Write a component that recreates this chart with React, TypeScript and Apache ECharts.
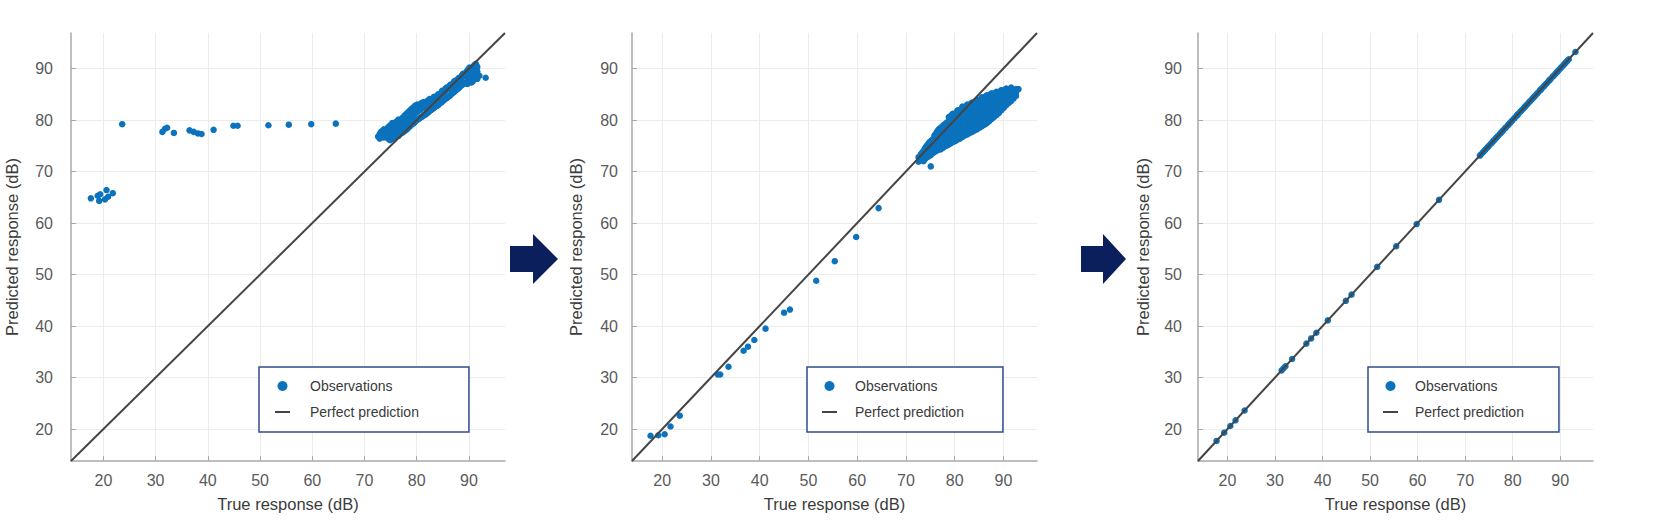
import React, { useEffect, useRef } from "react";
import * as echarts from "echarts";

const AXIS_MIN = 13.8;
const AXIS_MAX = 96.9;
const tickValues = [20, 30, 40, 50, 60, 70, 80, 90];
const xAxisName = "True response (dB)";
const yAxisName = "Predicted response (dB)";
const obsName = "Observations";
const lineName = "Perfect prediction";

// Panel 1: initial model (true, predicted)
const panel1Obs: number[][] = [
  [17.6, 64.8], [18.9, 65.3], [19.2, 64.3], [19.4, 65.6], [20.3, 64.6], [20.6, 66.4], [20.9, 65.1], [21.8, 65.8],
  [23.6, 79.2], [31.3, 77.7], [31.8, 78.3], [32.2, 78.5], [33.5, 77.5], [36.5, 78.0], [37.3, 77.7], [38.1, 77.4],
  [38.8, 77.3], [41.1, 78.1], [44.9, 78.9], [45.7, 78.9], [51.6, 79.0], [55.5, 79.1], [59.8, 79.2], [64.5, 79.3],
  [72.6, 76.8], [72.9, 76.4], [72.9, 77.3], [73.3, 77.0], [73.3, 77.8], [73.7, 76.6], [73.7, 77.5], [73.7, 78.2],
  [74.1, 77.1], [74.1, 78.0], [74.5, 76.4], [74.5, 77.6], [74.5, 78.6], [74.9, 76.1], [74.9, 77.2], [74.9, 78.3],
  [74.9, 79.0], [75.3, 76.8], [75.3, 77.9], [75.3, 79.4], [75.7, 76.3], [75.7, 77.5], [75.7, 78.6], [76.1, 77.0],
  [76.1, 78.2], [76.1, 79.7], [76.5, 76.9], [76.5, 77.8], [76.5, 79.0], [76.5, 80.1], [76.9, 77.4], [76.9, 78.5],
  [76.9, 79.6], [77.3, 77.6], [77.3, 78.9], [77.3, 80.5], [77.7, 77.9], [77.7, 79.3], [77.7, 80.9], [78.1, 78.2],
  [78.1, 79.8], [78.1, 81.3], [78.5, 78.6], [78.5, 80.2], [78.5, 81.7], [78.9, 79.0], [78.9, 80.5], [78.9, 82.1],
  [79.3, 79.3], [79.3, 81.0], [79.3, 82.4], [79.7, 79.7], [79.7, 81.3], [79.7, 82.8], [80.1, 80.0], [80.1, 81.6],
  [80.1, 83.0], [80.5, 80.3], [80.5, 81.9], [80.5, 82.6], [80.9, 80.6], [80.9, 82.2], [80.9, 83.3], [81.3, 80.9],
  [81.3, 82.5], [81.3, 83.5], [81.7, 81.1], [81.7, 82.6], [81.7, 83.2], [82.1, 81.4], [82.1, 82.9], [82.1, 83.8],
  [82.5, 81.8], [82.5, 83.2], [82.5, 84.1], [82.9, 82.1], [82.9, 83.4], [83.3, 82.4], [83.3, 83.9], [83.3, 84.5],
  [83.7, 82.7], [83.7, 84.1], [84.1, 82.9], [84.1, 84.4], [84.1, 85.0], [84.5, 83.3], [84.5, 84.8], [84.9, 83.6],
  [84.9, 85.2], [84.9, 85.7], [85.3, 84.0], [85.3, 85.5], [85.7, 84.3], [85.7, 85.9], [85.7, 86.3], [86.1, 84.6],
  [86.1, 86.1], [86.5, 84.9], [86.5, 86.5], [86.5, 86.9], [86.9, 85.3], [86.9, 86.8], [87.3, 85.6], [87.3, 87.2],
  [87.3, 87.6], [87.7, 86.0], [87.7, 87.5], [88.1, 86.3], [88.1, 87.8], [88.1, 88.2], [88.5, 86.7], [88.5, 88.1],
  [88.9, 87.0], [88.9, 88.5], [88.9, 89.0], [89.3, 87.3], [89.3, 88.9], [89.7, 87.0], [89.7, 88.3], [89.7, 89.6],
  [90.1, 87.5], [90.1, 89.0], [90.1, 90.2], [90.5, 87.3], [90.5, 88.6], [90.5, 89.8], [90.9, 87.8], [90.9, 89.2],
  [90.9, 90.5], [91.3, 88.3], [91.3, 89.7], [91.3, 90.9], [91.6, 88.0], [91.6, 89.4], [91.6, 90.3], [92.0, 88.6],
  [93.2, 88.2],
  [73.1, 76.9], [73.1, 77.6], [73.5, 76.7], [73.5, 77.4], [73.9, 76.8], [73.9, 77.8], [74.3, 76.9], [74.3, 77.8],
  [74.7, 76.8], [74.7, 77.9], [74.7, 78.7], [75.1, 76.5], [75.1, 77.5], [75.1, 78.7], [75.5, 77.2], [75.5, 78.3],
  [75.5, 79.1], [75.9, 76.7], [75.9, 77.8], [75.9, 78.9], [76.3, 77.5], [76.3, 78.6], [76.3, 79.5], [76.7, 77.2],
  [76.7, 78.2], [76.7, 79.3], [77.1, 77.5], [77.1, 78.7], [77.1, 80.0], [77.5, 77.8], [77.5, 79.1], [77.5, 80.3],
  [77.9, 78.1], [77.9, 79.5], [77.9, 80.8], [78.3, 78.4], [78.3, 80.0], [78.3, 81.1], [78.7, 78.8], [78.7, 80.3],
  [78.7, 81.5], [79.1, 79.2], [79.1, 80.8], [79.1, 81.9], [79.5, 79.5], [79.5, 81.1], [79.5, 82.2], [79.9, 79.9],
  [79.9, 81.5], [79.9, 82.5], [80.3, 80.2], [80.3, 81.8], [80.3, 82.9], [80.7, 80.5], [80.7, 82.0], [80.7, 82.9],
  [81.1, 80.7], [81.1, 82.3], [81.1, 83.0], [81.5, 81.0], [81.5, 82.4], [81.5, 83.4], [81.9, 81.3], [81.9, 82.8],
  [81.9, 83.5], [82.3, 81.6], [82.3, 83.0], [82.3, 83.6], [82.7, 81.9], [82.7, 83.3], [82.7, 84.0], [83.1, 82.2],
  [83.1, 83.7], [83.1, 84.2], [83.5, 82.6], [83.5, 84.0], [83.9, 82.8], [83.9, 84.2], [83.9, 84.7], [84.3, 83.1],
  [84.3, 84.6], [84.7, 83.4], [84.7, 85.0], [84.7, 85.4], [85.1, 83.8], [85.1, 85.3], [85.5, 84.1], [85.5, 85.7],
  [85.5, 86.1], [85.9, 84.4], [85.9, 86.0], [86.3, 84.7], [86.3, 86.3], [86.3, 86.7], [86.7, 85.1], [86.7, 86.6],
  [87.1, 85.4], [87.1, 87.0], [87.1, 87.4], [87.5, 85.8], [87.5, 87.3], [87.9, 86.1], [87.9, 87.6], [87.9, 88.0],
  [88.3, 86.5], [88.3, 87.9], [88.7, 86.8], [88.7, 88.3], [88.7, 88.8], [89.1, 87.1], [89.1, 88.7], [89.5, 87.2],
  [89.5, 88.6], [89.5, 89.3], [89.9, 87.3], [89.9, 88.7], [89.9, 89.9], [90.3, 87.4], [90.3, 88.8], [90.3, 90.0],
  [90.7, 87.5], [90.7, 88.9], [90.7, 90.2], [91.1, 88.0], [91.1, 89.5], [91.1, 90.7], [91.45, 88.2], [91.45, 89.6],
  [91.45, 90.6],
];

// Panel 2: improved model (true, predicted)
const panel2Obs: number[][] = [
  [17.6, 18.7], [19.2, 18.8], [20.5, 19.0], [21.7, 20.5], [23.6, 22.6], [31.4, 30.6], [31.9, 30.6], [33.6, 32.1],
  [36.7, 35.2], [37.6, 36.0], [38.9, 37.3], [41.2, 39.5], [45.0, 42.6], [46.2, 43.2], [51.6, 48.8], [55.4, 52.6],
  [59.8, 57.3], [64.4, 62.9],
  [72.6, 71.9], [72.6, 72.8], [73.1, 72.3], [73.1, 73.4], [73.6, 72.0], [73.6, 73.1], [73.6, 74.0], [74.1, 72.6],
  [74.1, 73.7], [74.1, 74.8], [74.6, 72.9], [74.6, 74.1], [74.6, 75.4], [75.1, 71.0], [75.1, 73.2], [75.1, 74.5],
  [75.1, 75.9], [75.6, 73.6], [75.6, 74.9], [75.6, 76.3], [76.1, 73.9], [76.1, 75.2], [76.1, 76.6], [76.1, 77.3],
  [76.6, 74.2], [76.6, 75.5], [76.6, 76.9], [76.6, 78.0], [77.1, 74.3], [77.1, 75.8], [77.1, 77.2], [77.1, 78.4],
  [77.6, 74.6], [77.6, 76.1], [77.6, 77.5], [77.6, 78.9], [78.1, 74.9], [78.1, 76.4], [78.1, 77.8], [78.1, 79.2],
  [78.6, 75.1], [78.6, 76.6], [78.6, 78.1], [78.6, 79.5], [78.8, 80.6], [79.1, 75.4], [79.1, 76.9], [79.1, 78.4],
  [79.1, 79.8], [79.6, 75.7], [79.6, 77.2], [79.6, 78.7], [79.6, 80.1], [79.6, 81.2], [80.1, 75.9], [80.1, 77.5],
  [80.1, 79.0], [80.1, 80.5], [80.6, 76.2], [80.6, 77.7], [80.6, 79.3], [80.6, 80.8], [80.6, 81.9], [81.1, 76.4],
  [81.1, 78.0], [81.1, 79.6], [81.1, 81.1], [81.6, 76.7], [81.6, 78.3], [81.6, 79.9], [81.6, 81.4], [81.6, 82.6],
  [82.1, 77.0], [82.1, 78.5], [82.1, 80.1], [82.1, 81.7], [82.6, 77.2], [82.6, 78.8], [82.6, 80.4], [82.6, 82.0],
  [82.6, 83.0], [83.1, 77.5], [83.1, 79.0], [83.1, 80.6], [83.1, 82.2], [83.6, 77.7], [83.6, 79.3], [83.6, 80.9],
  [83.6, 82.5], [83.6, 83.4], [84.1, 78.0], [84.1, 79.6], [84.1, 81.1], [84.1, 82.7], [84.6, 78.2], [84.6, 79.8],
  [84.6, 81.4], [84.6, 82.9], [84.6, 83.9], [85.1, 78.5], [85.1, 80.1], [85.1, 81.6], [85.1, 83.1], [85.6, 78.8],
  [85.6, 80.3], [85.6, 81.9], [85.6, 83.3], [85.6, 84.4], [86.1, 79.1], [86.1, 80.6], [86.1, 82.1], [86.1, 83.6],
  [86.6, 79.4], [86.6, 80.9], [86.6, 82.4], [86.6, 83.8], [86.6, 84.8], [87.1, 79.8], [87.1, 81.2], [87.1, 82.6],
  [87.1, 84.0], [87.6, 80.2], [87.6, 81.5], [87.6, 82.9], [87.6, 84.2], [87.6, 85.2], [88.1, 80.6], [88.1, 81.8],
  [88.1, 83.1], [88.1, 84.4], [88.6, 81.0], [88.6, 82.2], [88.6, 83.4], [88.6, 84.6], [88.6, 85.5], [89.1, 81.4],
  [89.1, 82.5], [89.1, 83.6], [89.1, 84.8], [89.6, 81.9], [89.6, 82.9], [89.6, 83.9], [89.6, 85.0], [89.6, 85.8],
  [90.1, 82.4], [90.1, 83.3], [90.1, 84.2], [90.1, 85.2], [90.6, 82.9], [90.6, 83.7], [90.6, 84.5], [90.6, 85.4],
  [90.6, 86.1], [91.1, 83.3], [91.1, 84.1], [91.1, 84.8], [91.1, 85.6], [91.6, 83.7], [91.6, 84.5], [91.6, 85.1],
  [91.6, 85.8], [91.6, 86.3], [92.1, 84.2], [92.1, 84.9], [92.1, 85.5], [92.6, 84.7], [92.6, 85.4], [92.6, 86.0],
  [93.1, 86.0],
  [72.85, 72.4], [73.35, 72.7], [73.35, 73.7], [73.85, 72.4], [73.85, 73.4], [73.85, 74.4], [74.35, 73.1], [74.35, 74.2],
  [74.35, 75.1], [74.85, 73.5], [74.85, 74.6], [74.85, 75.7], [75.35, 73.8], [75.35, 75.0], [75.35, 76.1], [75.85, 74.1],
  [75.85, 75.3], [75.85, 76.5], [75.85, 77.0], [76.35, 74.4], [76.35, 75.6], [76.35, 76.8], [76.35, 77.7], [76.85, 74.6],
  [76.85, 75.9], [76.85, 77.2], [76.85, 78.3], [77.35, 74.8], [77.35, 76.2], [77.35, 77.6], [77.35, 78.7], [77.85, 75.1],
  [77.85, 76.5], [77.85, 77.9], [77.85, 79.1], [78.35, 75.4], [78.35, 76.8], [78.35, 78.2], [78.35, 79.5], [78.85, 75.6],
  [78.85, 77.1], [78.85, 78.5], [78.85, 79.8], [79.35, 75.9], [79.35, 77.4], [79.35, 78.8], [79.35, 80.2], [79.35, 80.9],
  [79.85, 76.2], [79.85, 77.7], [79.85, 79.2], [79.85, 80.5], [80.35, 76.4], [80.35, 77.9], [80.35, 79.5], [80.35, 80.9],
  [80.35, 81.5], [80.85, 76.7], [80.85, 78.2], [80.85, 79.8], [80.85, 81.3], [81.35, 77.0], [81.35, 78.5], [81.35, 80.1],
  [81.35, 81.6], [81.35, 82.2], [81.85, 77.2], [81.85, 78.8], [81.85, 80.4], [81.85, 81.9], [82.35, 77.5], [82.35, 79.0],
  [82.35, 80.6], [82.35, 82.2], [82.35, 82.7], [82.85, 77.7], [82.85, 79.3], [82.85, 80.9], [82.85, 82.4], [83.35, 78.0],
  [83.35, 79.6], [83.35, 81.1], [83.35, 82.7], [83.35, 83.2], [83.85, 78.2], [83.85, 79.8], [83.85, 81.4], [83.85, 82.9],
  [84.35, 78.5], [84.35, 80.1], [84.35, 81.6], [84.35, 83.1], [84.35, 83.7], [84.85, 78.7], [84.85, 80.3], [84.85, 81.9],
  [84.85, 83.4], [85.35, 79.0], [85.35, 80.6], [85.35, 82.1], [85.35, 83.6], [85.35, 84.1], [85.85, 79.3], [85.85, 80.8],
  [85.85, 82.4], [85.85, 83.8], [86.35, 79.6], [86.35, 81.1], [86.35, 82.6], [86.35, 84.0], [86.35, 84.6], [86.85, 80.0],
  [86.85, 81.4], [86.85, 82.9], [86.85, 84.3], [87.35, 80.4], [87.35, 81.7], [87.35, 83.1], [87.35, 84.5], [87.35, 85.0],
  [87.85, 80.8], [87.85, 82.0], [87.85, 83.4], [87.85, 84.7], [88.35, 81.2], [88.35, 82.4], [88.35, 83.6], [88.35, 84.9],
  [88.35, 85.3], [88.85, 81.6], [88.85, 82.7], [88.85, 83.9], [88.85, 85.1], [89.35, 82.1], [89.35, 83.1], [89.35, 84.2],
  [89.35, 85.3], [89.35, 85.6], [89.85, 82.6], [89.85, 83.5], [89.85, 84.5], [89.85, 85.5], [90.35, 83.0], [90.35, 83.9],
  [90.35, 84.8], [90.35, 85.6], [90.35, 85.9], [90.85, 83.5], [90.85, 84.3], [90.85, 85.1], [90.85, 85.8], [91.35, 83.9],
  [91.35, 84.7], [91.35, 85.4], [91.35, 86.0], [91.85, 84.4], [91.85, 85.1], [91.85, 85.7], [92.35, 84.9], [92.35, 85.6],
];

// Panel 3: final model (true, predicted)
const panel3Obs: number[][] = [
  [17.7, 17.7], [19.3, 19.3], [20.6, 20.6], [21.7, 21.7], [23.6, 23.6], [31.4, 31.4], [31.8, 31.8], [32.2, 32.2],
  [33.6, 33.6], [36.6, 36.6], [37.6, 37.6], [38.7, 38.7], [41.1, 41.1], [44.9, 44.9], [46.1, 46.1], [51.5, 51.5],
  [55.5, 55.5], [59.8, 59.8], [64.5, 64.5],
  [73.1, 73.1], [73.3, 73.3], [73.7, 73.7], [73.9, 73.9], [74.2, 74.2], [74.6, 74.6], [74.8, 74.8], [75.0, 75.0],
  [75.4, 75.4], [75.6, 75.6], [75.9, 75.9], [76.1, 76.1], [76.5, 76.5], [76.7, 76.7], [76.9, 76.9], [77.3, 77.3],
  [77.5, 77.5], [77.8, 77.8], [78.0, 78.0], [78.4, 78.4], [78.5, 78.5], [78.9, 78.9], [79.1, 79.1], [79.4, 79.4],
  [79.7, 79.7], [79.9, 79.9], [80.3, 80.3], [80.4, 80.4], [80.8, 80.8], [81.0, 81.0], [81.2, 81.2], [81.6, 81.6],
  [81.8, 81.8], [82.1, 82.1], [82.4, 82.4], [82.6, 82.6], [82.9, 82.9], [83.2, 83.2], [83.5, 83.5], [83.7, 83.7],
  [84.0, 84.0], [84.3, 84.3], [84.5, 84.5], [84.8, 84.8], [85.1, 85.1], [85.3, 85.3], [85.7, 85.7], [85.9, 85.9],
  [86.1, 86.1], [86.5, 86.5], [86.7, 86.7], [87.0, 87.0], [87.2, 87.2], [87.6, 87.6], [87.8, 87.8], [88.0, 88.0],
  [88.4, 88.4], [88.6, 88.6], [88.9, 88.9], [89.2, 89.2], [89.4, 89.4], [89.7, 89.7], [90.0, 90.0], [90.2, 90.2],
  [90.5, 90.5], [90.8, 90.8], [91.0, 91.0], [91.3, 91.3], [91.5, 91.5], [91.8, 91.8], [93.2, 93.2],
];

const perfectLine: number[][] = [[AXIS_MIN, AXIS_MIN], [AXIS_MAX, AXIS_MAX]];

const FONT = "'Liberation Sans', Arial, Helvetica, sans-serif";
const BLUE = "#0b72bd";
const NAVY = "#0b1f5c";
const LINE = "#454545";

const layout = [
  { grid: { left: 71, top: 33, width: 434, height: 428 }, yLabelMargin: 18, yNameGap: 51,
    legend: { left: 259, top: 367, padding: [12, 50, 13, 16], textPad: 15 } },
  { grid: { left: 632, top: 33, width: 405, height: 428 }, yLabelMargin: 14, yNameGap: 48,
    legend: { left: 807, top: 367, padding: [12, 39, 13, 15], textPad: 13 } },
  { grid: { left: 1198, top: 33, width: 395, height: 428 }, yLabelMargin: 16, yNameGap: 47,
    legend: { left: 1368, top: 367, padding: [12, 35, 13, 15], textPad: 12 } },
];
const panelData = [panel1Obs, panel2Obs, panel3Obs];

export default function App() {
  const ref = useRef<HTMLDivElement>(null);
  useEffect(() => {
    if (!ref.current) return;
    const chart = echarts.init(ref.current, undefined, { renderer: "svg" });

    const axisCommon = {
      type: "value" as const,
      min: AXIS_MIN,
      max: AXIS_MAX,
      nameLocation: "middle" as const,
      nameTextStyle: { fontFamily: FONT, fontSize: 16.5, color: "#3c3c3c" },
      axisLine: { show: true, lineStyle: { color: "#a8a8a8", width: 1.5 } },
      axisTick: { show: true, inside: true, length: 5, customValues: tickValues, lineStyle: { color: "#a8a8a8" } },
      splitLine: { show: true, lineStyle: { color: "#ececec", width: 1 } },
    };

    const option: any = {
      animation: false,
      backgroundColor: "#ffffff",
      grid: layout.map((l) => ({ ...l.grid, containLabel: false })),
      xAxis: layout.map((l, i) => ({
        ...axisCommon,
        gridIndex: i,
        name: xAxisName,
        nameGap: 34,
        axisLabel: { customValues: tickValues, margin: 11, fontFamily: FONT, fontSize: 16, color: "#5a5a5a" },
      })),
      yAxis: layout.map((l, i) => ({
        ...axisCommon,
        gridIndex: i,
        name: yAxisName,
        nameGap: l.yNameGap,
        axisLabel: { customValues: tickValues, margin: l.yLabelMargin, fontFamily: FONT, fontSize: 16, color: "#5a5a5a" },
      })),
      legend: layout.map((l) => ({
        orient: "vertical",
        left: l.legend.left,
        top: l.legend.top,
        padding: l.legend.padding,
        itemWidth: 15,
        itemHeight: 10,
        itemGap: 12,
        borderColor: "#2f4d8c",
        borderWidth: 1.5,
        backgroundColor: "#ffffff",
        selectedMode: false,
        data: [
          { name: obsName, icon: "circle", itemStyle: { color: BLUE, opacity: 1 } },
          { name: lineName, icon: "path://M0,0 L15,0 L15,2 L0,2 Z", itemStyle: { color: LINE, borderWidth: 0 } },
        ],
        textStyle: { fontFamily: FONT, fontSize: 14, color: "#3a3a3a", lineHeight: 14, padding: [0, 0, 0, l.legend.textPad] },
      })),
      series: [
        ...panelData.map((d, i) => ({
          name: obsName,
          type: "scatter",
          xAxisIndex: i,
          yAxisIndex: i,
          data: d,
          symbol: "circle",
          symbolSize: 6.5,
          itemStyle: { color: BLUE, opacity: 1 },
          z: 2,
        })),
        ...panelData.map((_, i) => ({
          name: lineName,
          type: "line",
          xAxisIndex: i,
          yAxisIndex: i,
          data: perfectLine,
          symbol: "none",
          lineStyle: { color: LINE, width: 2 },
          itemStyle: { color: LINE },
          z: 3,
        })),
      ],
      graphic: [
        {
          type: "polygon",
          shape: { points: [[510, 246], [533, 246], [533, 234], [558, 259], [533, 284], [533, 272], [510, 272]] },
          style: { fill: NAVY },
        },
        {
          type: "polygon",
          shape: { points: [[1081, 246], [1103, 246], [1103, 234], [1126, 259], [1103, 284], [1103, 272], [1081, 272]] },
          style: { fill: NAVY },
        },
      ],
    };
    chart.setOption(option);
    return () => chart.dispose();
  }, []);
  return (
    <div
      ref={ref}
      style={{ position: "fixed", left: 0, top: 0, width: 1654, height: 532, background: "#fff" }}
    />
  );
}
